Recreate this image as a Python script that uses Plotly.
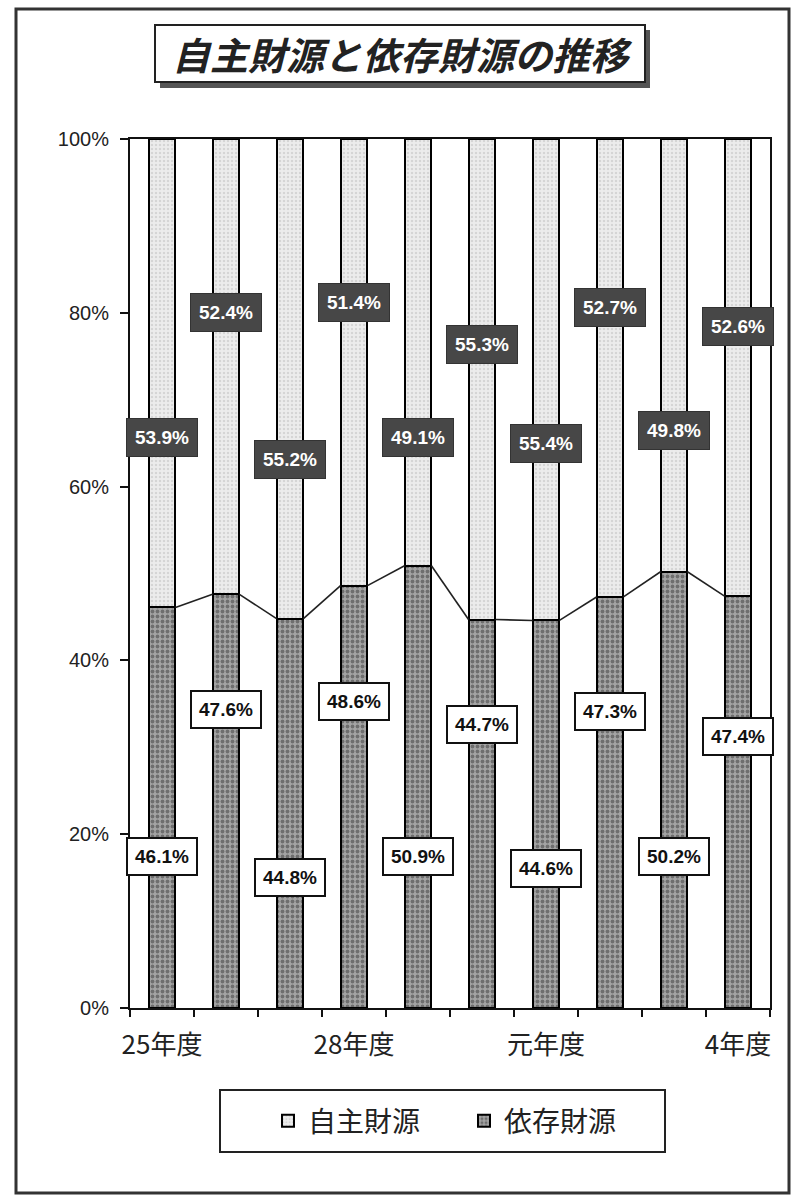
import plotly.graph_objects as go

# ---- data ----
years = ["25年度", "26年度", "27年度", "28年度", "29年度", "30年度", "元年度", "2年度", "3年度", "4年度"]
jishu = [53.9, 52.4, 55.2, 51.4, 49.1, 55.3, 55.4, 52.7, 49.8, 52.6]   # 自主財源
izon = [46.1, 47.6, 44.8, 48.6, 50.9, 44.7, 44.6, 47.3, 50.2, 47.4]    # 依存財源
shown_ticks = ["25年度", "28年度", "元年度", "4年度"]
series_names = ["自主財源", "依存財源"]
title_text = "自主財源と依存財源の推移"

# ---- layout parameters (label placement in % units) ----
top_label_y = [65.7, 80.0, 63.1, 81.2, 65.7, 76.3, 65.0, 80.6, 66.5, 78.4]
bot_label_y = [17.4, 34.4, 15.0, 35.3, 17.4, 32.6, 16.1, 34.1, 17.4, 31.2]
BAR_W = 0.42

W, H = 791, 1196
L, R, T, B = 130, 770, 139, 1008


def px(x):
    return (x - L) / (R - L)


def py(y):
    return (B - y) / (B - T)


xs = list(range(len(years)))
fig = go.Figure()

fig.add_trace(go.Bar(
    x=xs, y=izon, name=series_names[1], width=BAR_W, legendrank=2,
    marker=dict(color="#9a9a9a", line=dict(color="black", width=2),
                pattern=dict(shape=".", fgcolor="#383838", bgcolor="#a4a4a4", size=5, solidity=0.45)),
))
fig.add_trace(go.Bar(
    x=xs, y=jishu, name=series_names[0], width=BAR_W, legendrank=1,
    marker=dict(color="#e8e8e8", line=dict(color="black", width=2),
                pattern=dict(shape=".", fgcolor="#bdbdbd", bgcolor="#ececec", size=4, solidity=0.3)),
))

# series lines connecting the tops of 依存財源 segments
lx, ly = [], []
for i in range(len(xs) - 1):
    lx += [xs[i] + BAR_W / 2, xs[i + 1] - BAR_W / 2, None]
    ly += [izon[i], izon[i + 1], None]
fig.add_trace(go.Scatter(x=lx, y=ly, mode="lines", line=dict(color="#222", width=1.6),
                         showlegend=False, hoverinfo="skip"))

label_font = "Liberation Sans"
ann = []
for i in xs:
    ann.append(dict(x=xs[i], y=top_label_y[i], xref="x", yref="y", showarrow=False,
                    text=f"<b>{jishu[i]:.1f}%</b>",
                    font=dict(family=label_font, size=19, color="white"),
                    bgcolor="#474747", bordercolor="#333333", borderwidth=1, borderpad=8))
    ann.append(dict(x=xs[i], y=bot_label_y[i], xref="x", yref="y", showarrow=False,
                    text=f"<b>{izon[i]:.1f}%</b>",
                    font=dict(family=label_font, size=19, color="#111"),
                    bgcolor="white", bordercolor="#111", borderwidth=2, borderpad=7))

# title
ann.append(dict(x=px(402), y=py(54), xref="paper", yref="paper", showarrow=False,
                xanchor="center", yanchor="middle",
                text=f"<b><i>{title_text}</i></b>",
                font=dict(family="Noto Sans CJK JP", size=38, color="#222")))

shapes = [
    # outer frame
    dict(type="rect", xref="paper", yref="paper", x0=px(16), x1=px(789), y0=py(9), y1=py(1193),
         line=dict(color="#333", width=3), fillcolor="rgba(0,0,0,0)", layer="below"),
    # title shadow + box
    dict(type="rect", xref="paper", yref="paper", x0=px(160), x1=px(650), y0=py(30), y1=py(88),
         line=dict(width=0), fillcolor="#555555", layer="below"),
    dict(type="rect", xref="paper", yref="paper", x0=px(155), x1=px(645), y0=py(25), y1=py(82),
         line=dict(color="#222", width=2), fillcolor="white", layer="below"),
    # legend box
    dict(type="rect", xref="paper", yref="paper", x0=px(220), x1=px(665), y0=py(1090), y1=py(1152),
         line=dict(color="#222", width=2), fillcolor="white", layer="below"),
]

fig.update_layout(
    width=W, height=H,
    margin=dict(l=L, r=W - R, t=T, b=H - B, autoexpand=False),
    barmode="stack",
    paper_bgcolor="white", plot_bgcolor="rgba(0,0,0,0)",
    showlegend=True,
    legend=dict(orientation="h", x=px(464), y=py(1121), xanchor="center", yanchor="middle",
                traceorder="normal",
                font=dict(family="Noto Sans CJK JP", size=28, color="#222"),
                bgcolor="rgba(0,0,0,0)", borderwidth=0, entrywidth=151, entrywidthmode="pixels"),
    annotations=ann, shapes=shapes,
    xaxis=dict(range=[-0.5, len(xs) - 0.5], tickvals=[years.index(t) for t in shown_ticks],
               ticktext=shown_ticks, ticks="", showline=True, linecolor="#111", linewidth=2,
               mirror=True, showgrid=False, zeroline=False, ticklabelstandoff=13,
               tickfont=dict(family="Noto Sans CJK JP", size=26, color="#222"),
               minor=dict(tickvals=[i - 0.5 for i in range(len(xs) + 1)], ticks="outside",
                          ticklen=7, tickwidth=2, tickcolor="#111", showgrid=False)),
    yaxis=dict(range=[0, 100], tickvals=[0, 20, 40, 60, 80, 100],
               ticktext=["0%", "20%", "40%", "60%", "80%", "100%"],
               ticks="outside", ticklen=8, tickwidth=2, tickcolor="#111",
               showline=True, linecolor="#111", linewidth=2, mirror=True,
               showgrid=False, zeroline=False, ticklabelstandoff=7,
               tickfont=dict(family="Liberation Sans", size=20, color="#222")),
)

fig.write_html("out.html", config={"displayModeBar": False},
               post_script="document.body.style.margin='0px';document.body.style.overflow='hidden';")
